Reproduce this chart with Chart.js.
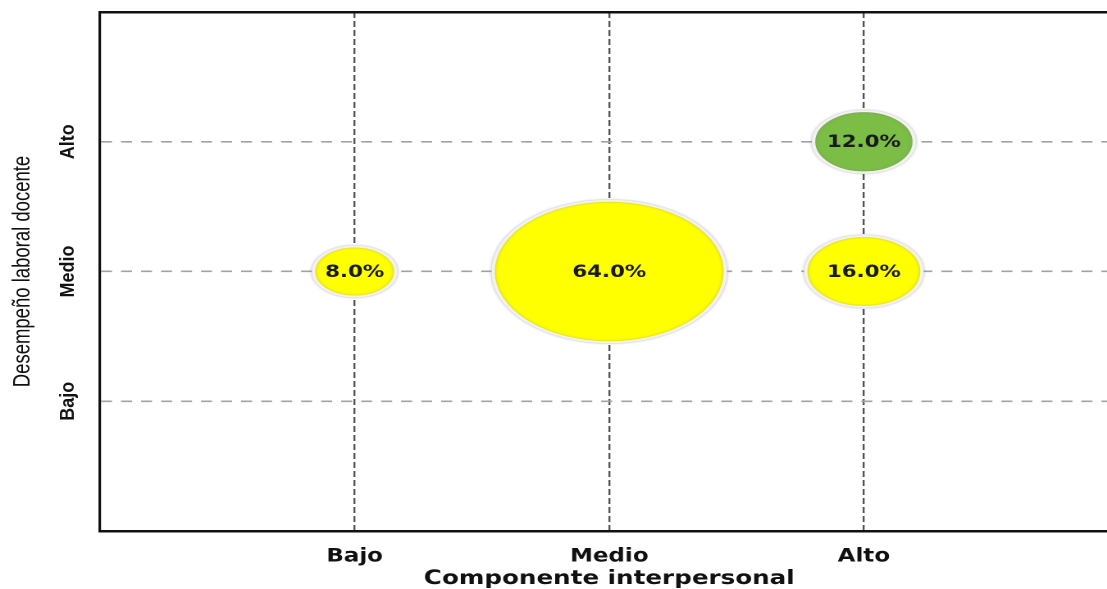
<!DOCTYPE html>
<html>
<head>
<meta charset="utf-8">
<script src="https://cdn.jsdelivr.net/npm/chart.js@4.4.1/dist/chart.umd.min.js"></script>
<style>
  html, body { margin: 0; padding: 0; background: #fff; overflow: hidden; width: 1107px; height: 589px; }
  /* the reference picture is stretched sideways, so the chart is drawn narrow and widened */
  #wrap { width: 700px; height: 589px; transform: scaleX(1.64); transform-origin: 0 0; }
  #chart { display: block; }
</style>
</head>
<body>
<div id="wrap"><canvas id="chart" width="700" height="589"></canvas></div>
<script>
// ========== Data ==========
const levelLabels = ['', 'Bajo', 'Medio', 'Alto', ''];
const xTitle = 'Componente interpersonal';
const yTitle = 'Desempeño laboral docente';

const componentLevel = [1, 2, 3, 3];   // x: Bajo, Medio, Alto, Alto
const performanceLevel = [2, 2, 2, 3]; // y: Medio, Medio, Medio, Alto
const percentages = [8.0, 64.0, 16.0, 12.0];

// ========== Styles ==========
const yellow = '#ffff00';
const green = '#7bbd45';
const pointColors = [yellow, yellow, yellow, green];
const radiusPerRootPct = 8.85;
const stretch = 1.64;          // must match the CSS scaleX
const textTall = 1.3;          // horizontal texts are taller than the stretch gives
const yTickSqueeze = 1.1 / stretch;
const yTitleSqueeze = 1.3 / stretch;

const bubbles = componentLevel.map((x, i) => ({
  x: x,
  y: performanceLevel[i],
  r: Math.sqrt(percentages[i]) * radiusPerRootPct,
  pct: percentages[i]
}));

// ========== Utils ==========
function wrapDraw(scale, method, center, sx, sy) {
  if (scale['_orig_' + method]) return;
  const orig = scale[method];
  scale['_orig_' + method] = orig;
  scale[method] = function (...args) {
    const ctx = this.ctx;
    const [cx, cy] = center(this, args);
    ctx.save();
    ctx.translate(cx, cy);
    ctx.scale(sx, sy);
    ctx.translate(-cx, -cy);
    orig.apply(this, args);
    ctx.restore();
  };
}

function titleOffset(scale) {
  const t = scale.options.title;
  const lh = t.font.size * 1.2;
  return lh / 2;
}

// ========== Plugins ==========
const textShape = {
  id: 'textShape',
  beforeDraw(chart) {
    const x = chart.scales.x, y = chart.scales.y;
    wrapDraw(x, 'drawLabels', (s, a) => {
      const it = s.getLabelItems(a[0]).find(d => d.label);
      return [0, it ? it.options.translation[1] + it.textOffset : s.top];
    }, 1, textTall);
    wrapDraw(x, 'drawTitle', s => [0, s.bottom - titleOffset(s) - s.options.title.padding.bottom], 1, textTall);
    wrapDraw(y, 'drawLabels', (s, a) => {
      const it = s.getLabelItems(a[0]).find(d => d.label);
      return [it ? it.options.translation[0] : s.left, 0];
    }, yTickSqueeze, 1);
    wrapDraw(y, 'drawTitle', s => [s.left + titleOffset(s) + s.options.title.padding.top, 0], yTitleSqueeze, 1);
  }
};

const bubbleShadow = {
  id: 'bubbleShadow',
  beforeDatasetsDraw(chart) {
    const ctx = chart.ctx;
    ctx.save();
    ctx.shadowColor = 'rgba(130,120,185,0.5)';
    ctx.shadowBlur = 4;
  },
  afterDatasetsDraw(chart) {
    chart.ctx.restore();
  }
};

const bubbleLabels = {
  id: 'bubbleLabels',
  afterDatasetsDraw(chart) {
    const ctx = chart.ctx;
    const meta = chart.getDatasetMeta(0);
    meta.data.forEach((el, i) => {
      ctx.save();
      ctx.translate(el.x, el.y + 1);
      ctx.scale(1, textTall);
      ctx.font = 'bold 13px "DejaVu Sans"';
      ctx.fillStyle = '#1a1a1a';
      ctx.textAlign = 'center';
      ctx.textBaseline = 'middle';
      ctx.fillText(bubbles[i].pct.toFixed(1) + '%', 0, 0);
      ctx.restore();
    });
  }
};

const edgeTick = v => v === 0 || v === 4;

// ========== Chart ==========
new Chart(document.getElementById('chart'), {
  type: 'bubble',
  data: {
    datasets: [{
      data: bubbles,
      backgroundColor: ctx => pointColors[ctx.dataIndex],
      borderColor: '#f3f3e8',
      borderWidth: 2,
      hoverRadius: 0
    }]
  },
  options: {
    responsive: false,
    devicePixelRatio: 2,
    animation: false,
    events: [],
    layout: { autoPadding: false, padding: { left: 0, right: 18, top: 0, bottom: 0 } },
    plugins: { legend: { display: false }, tooltip: { enabled: false } },
    scales: {
      x: {
        type: 'linear',
        position: 'bottom',
        min: 0,
        max: 4,
        afterFit: s => { s.height = 58; },
        ticks: {
          stepSize: 1,
          autoSkip: false,
          padding: 17.5,
          color: '#111',
          font: { family: 'DejaVu Sans', size: 14, weight: 'bold' },
          callback: v => levelLabels[v] || ''
        },
        grid: {
          drawTicks: false,
          lineWidth: 1.2,
          color: ctx => edgeTick(ctx.tick && ctx.tick.value) ? 'rgba(0,0,0,0)' : '#555'
        },
        border: { display: true, color: '#111', width: 2.5, dash: [6, 3] },
        title: {
          display: true,
          text: xTitle,
          color: '#111',
          font: { family: 'DejaVu Sans', size: 15, weight: 'bold' },
          padding: { top: 0, bottom: 1 }
        }
      },
      xTop: {
        type: 'linear',
        position: 'top',
        min: 0,
        max: 4,
        afterFit: s => { s.height = 12; },
        ticks: { display: false },
        grid: { display: false, drawTicks: false },
        border: { display: true, color: '#111', width: 2.5 }
      },
      y: {
        type: 'linear',
        position: 'left',
        min: 0,
        max: 4,
        afterFit: s => { s.width = 61; },
        ticks: {
          stepSize: 1,
          autoSkip: false,
          minRotation: 90,
          maxRotation: 90,
          crossAlign: 'center',
          padding: -6.5,
          color: '#111',
          font: { family: 'Liberation Sans', size: 18, weight: 'bold' },
          callback: v => levelLabels[v] || ''
        },
        grid: {
          drawTicks: false,
          lineWidth: 1.6,
          color: ctx => edgeTick(ctx.tick && ctx.tick.value) ? 'rgba(0,0,0,0)' : '#a3a3a3'
        },
        border: { display: true, color: '#111', width: 1.6, dash: [6.7, 5.5] },
        title: {
          display: true,
          text: yTitle,
          color: '#111',
          font: { family: 'Liberation Sans', size: 18.5 },
          padding: { top: 3, bottom: 0 }
        }
      }
    }
  },
  plugins: [textShape, bubbleShadow, bubbleLabels]
});
</script>
</body>
</html>
